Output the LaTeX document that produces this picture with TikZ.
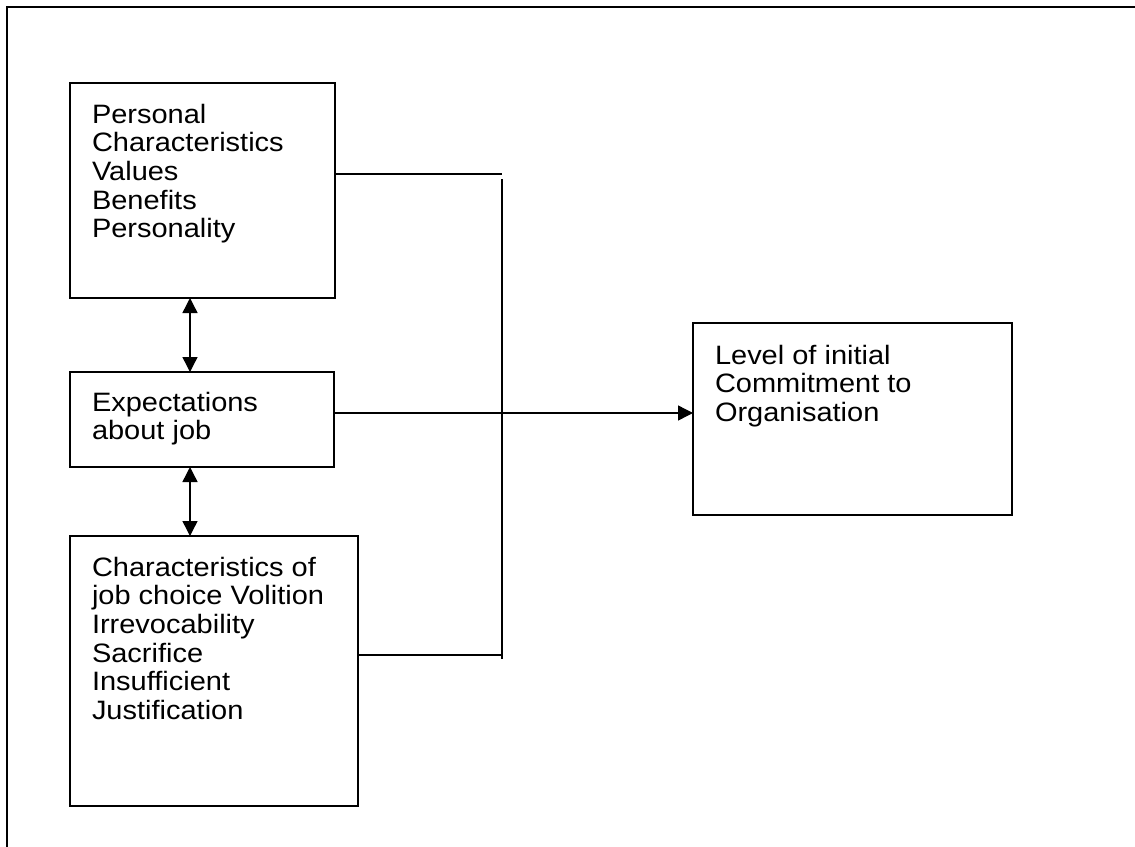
\documentclass[tikz,border=0pt]{standalone}
\usepackage{fontspec}
\setmainfont{Liberation Sans}[FakeStretch=1.09]
\usetikzlibrary{arrows.meta}
\begin{document}
\begin{tikzpicture}[x=1pt,y=-1pt,
  box/.style={draw,line width=1.5pt,anchor=north west,inner sep=0pt,outer sep=0pt},
  txt/.style={anchor=north west,inner sep=0pt,outer sep=0pt,align=left,
    font=\fontsize{26.6}{28.6}\selectfont},
  conn/.style={line width=1.4pt},
  dblarrow/.style={line width=1.4pt,{Triangle[length=15pt,width=15pt]}-{Triangle[length=15pt,width=15pt]}},
  arrowone/.style={line width=1.4pt,-{Triangle[length=15pt,width=15pt]}},
  frame/.style={line width=2.8pt}]
\useasboundingbox (0,0) rectangle (1135,846);
\fill[white] (0,0) rectangle (1135,846);
% outer frame (top and left only)
\coordinate (fbl) at (7,850);
\coordinate (ftl) at (7,7);
\coordinate (ftr) at (1140,7);
\draw[frame] (fbl) -- (ftl) -- (ftr);
% boxes
\node[box,minimum width=265pt,minimum height=215pt] (b1) at (70,83) {};
\node[box,minimum width=264pt,minimum height=95pt] (b2) at (70,372) {};
\node[box,minimum width=288pt,minimum height=270pt] (b3) at (70,536) {};
\node[box,minimum width=319pt,minimum height=192pt] (b4) at (693,323) {};
% texts
\node[txt] (t1) at (92,104) {Personal\\Characteristics\\Values\\Benefits\\Personality};
\node[txt] (t2) at (92,392) {Expectations\\about job};
\node[txt] (t3) at (92,557) {Characteristics of\\job choice Volition\\Irrevocability\\Sacrifice\\Insufficient\\Justification};
\node[txt] (t4) at (715,345) {Level of initial\\Commitment to\\Organisation};
% helper coordinates
\coordinate (ax) at (190,0);
\coordinate (h1) at (502,174);
\coordinate (h3) at (502,655);
\coordinate (vtop) at (502,179);
\coordinate (vbot) at (502,659);
\coordinate (ay) at (0,413);
% connectors
\draw[dblarrow] (b1.south -| ax) -- (b2.north -| ax);
\draw[dblarrow] (b2.south -| ax) -- (b3.north -| ax);
\draw[conn] (b1.east |- h1) -- (h1);
\draw[conn] (b3.east |- h3) -- (h3);
\draw[conn] (vtop) -- (vbot);
\draw[arrowone] (b2.east |- ay) -- (b4.west |- ay);
\end{tikzpicture}
\end{document}
